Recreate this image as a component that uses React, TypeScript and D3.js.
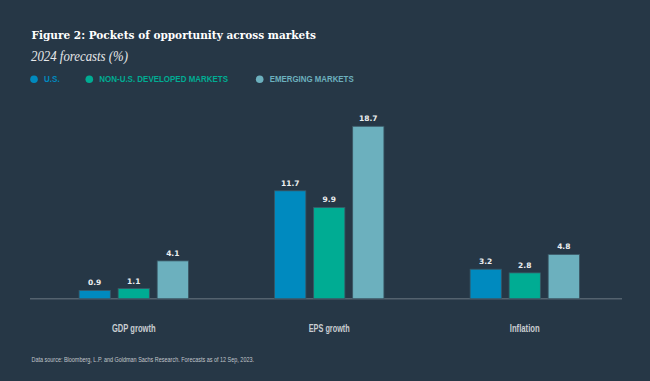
import React from "react";
import * as d3 from "d3";

const categories = ["GDP growth", "EPS growth", "Inflation"];
const seriesNames = ["U.S.", "NON-U.S. DEVELOPED MARKETS", "EMERGING MARKETS"];
const usValues = [0.9, 11.7, 3.2];
const nonUsValues = [1.1, 9.9, 2.8];
const emValues = [4.1, 18.7, 4.8];
const seriesColors = ["#008abf", "#00ac93", "#6cb0be"];

const W = 650;
const H = 381;
const BG = "#263746";

export default function App() {
  const series = [usValues, nonUsValues, emValues];
  const x0 = d3.scaleBand<string>().domain(categories).range([36, 622.5]).padding(0);
  const groupW = 109.3;
  const x1 = d3.scaleBand<number>().domain([0, 1, 2]).range([0, groupW]).paddingInner(0.2).paddingOuter(0);
  const y = d3.scaleLinear().domain([0, 20]).range([298.7, 114.3]);
  const groupOffset = (c: string) => (x0(c) as number) + x0.bandwidth() / 2 - groupW / 2;

  const legendX = [34, 89.3, 259.7];
  const legendLen = [15.7, 128.7, 84];
  const catLen = [43.6, 41, 30];
  const sans = "'Liberation Sans', Arial, sans-serif";
  const serif = "'DejaVu Serif', Georgia, serif";
  const serif2 = "'Liberation Serif', 'Times New Roman', serif";

  return (
    <svg width={W} height={H} style={{ position: "absolute", left: 0, top: 0, display: "block" }}>
      <rect x={0} y={0} width={W} height={H} fill={BG} />
      <text x={31.5} y={38.5} fill="#ffffff" fontFamily={serif} fontWeight="bold" fontSize={11.5}
        textLength={284.5} lengthAdjust="spacingAndGlyphs">
        Figure 2: Pockets of opportunity across markets
      </text>
      <text x={31} y={60.5} fill="#e6e8ea" fontFamily={serif2} fontStyle="italic" fontSize={14}
        textLength={97} lengthAdjust="spacingAndGlyphs">
        2024 forecasts (%)
      </text>
      {seriesNames.map((s, i) => (
        <g key={s}>
          <circle cx={legendX[i]} cy={79.3} r={3.8} fill={seriesColors[i]} />
          <text x={legendX[i] + 10} y={82.4} fill={seriesColors[i]} fontFamily={sans} fontWeight="bold" fontSize={8.6}
            textLength={legendLen[i]} lengthAdjust="spacingAndGlyphs">
            {s}
          </text>
        </g>
      ))}
      <line x1={30} x2={622} y1={y(0)} y2={y(0)} stroke="#54626e" strokeWidth={1.5} />
      {categories.map((c, ci) => (
        <g key={c} transform={`translate(${groupOffset(c)},0)`}>
          {series.map((vals, si) => {
            const v = vals[ci];
            const bx = x1(si) as number;
            return (
              <g key={si}>
                <rect
                  x={bx}
                  y={y(v)}
                  width={x1.bandwidth()}
                  height={y(0) - y(v)}
                  fill={seriesColors[si]}
                  stroke="#3b5866"
                  strokeWidth={0.8}
                />
                <text
                  x={bx + x1.bandwidth() / 2}
                  y={y(v) - 5}
                  textAnchor="middle"
                  fill="#eceef0"
                  fontFamily="'DejaVu Sans', sans-serif"
                  fontWeight="bold"
                  fontSize={7.5}
                >
                  {v.toFixed(1)}
                </text>
              </g>
            );
          })}
          <text
            x={groupW / 2 - catLen[ci] / 2}
            y={331.5}
            fill="#c9cdd1"
            fontFamily={sans}
            fontWeight="bold"
            fontSize={10}
            textLength={catLen[ci]}
            lengthAdjust="spacingAndGlyphs"
          >
            {c}
          </text>
        </g>
      ))}
      <text x={31.5} y={361.5} fill="#c0c5ca" fontFamily={sans} fontSize={7.5}
        textLength={222.5} lengthAdjust="spacingAndGlyphs">
        Data source: Bloomberg, L.P. and Goldman Sachs Research. Forecasts as of 12 Sep, 2023.
      </text>
    </svg>
  );
}
